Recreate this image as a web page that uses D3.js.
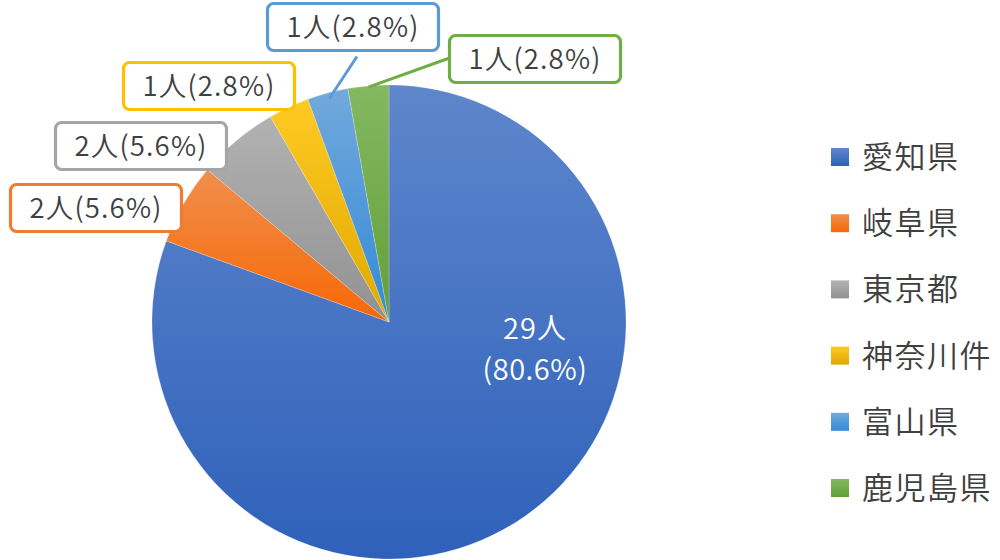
<!DOCTYPE html>
<html><head><meta charset="utf-8">
<script src="https://cdn.jsdelivr.net/npm/d3@7"></script>
<style>
html,body{margin:0;padding:0;background:#fff;}
svg{display:block;font-family:"Noto Sans CJK JP","Noto Sans",sans-serif;}
</style></head>
<body>
<svg id="chart" width="1000" height="560"></svg>
<script>
// ---- data ----
const categories = ["愛知県", "岐阜県", "東京都", "神奈川件", "富山県", "鹿児島県"];
const values = [29, 2, 2, 1, 1, 1];
const colors = ["#4472C4", "#ED7D31", "#A5A5A5", "#FFC000", "#5B9BD5", "#70AD47"];
const unit = "人";

// ---- layout (label placement, not data) ----
const layout = {
  cx: 389, cy: 322, r: 237,
  inside: { x: 535, y1: 339, y2: 380, size: 29 },
  // outside label box centres, indexed by slice
  boxes: [null, [96, 208], [141, 146], [209, 86], [353, 27], [535, 59]],
  leaders: { 4: { from: "bottom", rr: 0.975 }, 5: { from: "left", rr: 0.995 } },
  legend: { x: 831, y0: 157, dy: 66.2, sq: 18, size: 31 }
};

const total = d3.sum(values);
const pct = v => (v / total * 100).toFixed(1) + "%";

const svg = d3.select("#chart");
const defs = svg.append("defs");
colors.forEach((c, i) => {
  const g = defs.append("linearGradient").attr("id", "grad" + i)
    .attr("x1", 0).attr("y1", 0).attr("x2", 0).attr("y2", 1);
  const bottom = d3.hsl(c);
  bottom.l *= 0.88; bottom.s = Math.min(1, bottom.s * 1.15);
  g.append("stop").attr("offset", "0%").attr("stop-color", d3.interpolateRgb(c, "#ffffff")(0.14));
  g.append("stop").attr("offset", "100%").attr("stop-color", bottom.formatHex());
});

const pie = d3.pie().sort(null).value(d => d)(values);
const arc = d3.arc().innerRadius(0).outerRadius(layout.r);

const g = svg.append("g").attr("transform", `translate(${layout.cx},${layout.cy})`);
g.selectAll("path.slice").data(pie).join("path")
  .attr("class", "slice")
  .attr("d", arc)
  .attr("fill", (d, i) => `url(#grad${i})`)
  .attr("stroke", "#ffffff").attr("stroke-opacity", 0.35).attr("stroke-width", 0.6);

// inside label for the big slice
const ins = layout.inside;
svg.append("text").attr("x", ins.x).attr("y", ins.y1).attr("text-anchor", "middle")
  .attr("font-size", ins.size).attr("font-weight", 350).attr("fill", "#ffffff").attr("letter-spacing", 1)
  .text(values[0] + unit);
svg.append("text").attr("x", ins.x).attr("y", ins.y2).attr("text-anchor", "middle")
  .attr("font-size", ins.size).attr("font-weight", 350).attr("fill", "#ffffff").attr("letter-spacing", 0.5)
  .text("(" + pct(values[0]) + ")");

// outside labels
const boxW = 171, boxH = 47;
pie.forEach((d, i) => {
  const b = layout.boxes[i];
  if (!b) return;
  const col = colors[i];
  const lead = layout.leaders[i];
  if (lead) {
    const a = (d.startAngle + d.endAngle) / 2;
    const rr = layout.r * lead.rr;
    const ex = layout.cx + Math.sin(a) * rr, ey = layout.cy - Math.cos(a) * rr;
    let sx, sy;
    if (lead.from === "bottom") { sx = b[0] + 4; sy = b[1] + boxH / 2 + 6; }
    else { sx = b[0] - boxW / 2; sy = b[1] - 1; }
    svg.append("line").attr("x1", sx).attr("y1", sy).attr("x2", ex).attr("y2", ey)
      .attr("stroke", col).attr("stroke-width", 3);
  }
  svg.append("rect").attr("x", b[0] - boxW / 2).attr("y", b[1] - boxH / 2)
    .attr("width", boxW).attr("height", boxH).attr("rx", 6).attr("ry", 6)
    .attr("fill", "#ffffff").attr("stroke", col).attr("stroke-width", 3.2);
  svg.append("text").attr("x", b[0]).attr("y", b[1] + 10).attr("text-anchor", "middle")
    .attr("font-size", 27.5).attr("font-weight", 350).attr("fill", "#404040").attr("letter-spacing", 1.2)
    .text(d.data + unit + "(" + pct(d.data) + ")");
});

// legend
const L = layout.legend;
const lg = svg.append("g");
categories.forEach((c, i) => {
  const y = L.y0 + i * L.dy;
  lg.append("rect").attr("x", L.x).attr("y", y - L.sq / 2).attr("width", L.sq).attr("height", L.sq)
    .attr("fill", `url(#grad${i})`);
  lg.append("text").attr("x", L.x + 31).attr("y", y + 11).attr("font-size", L.size)
    .attr("font-weight", 350).attr("fill", "#404040").attr("letter-spacing", 1.5).text(c);
});
</script>
</body></html>
